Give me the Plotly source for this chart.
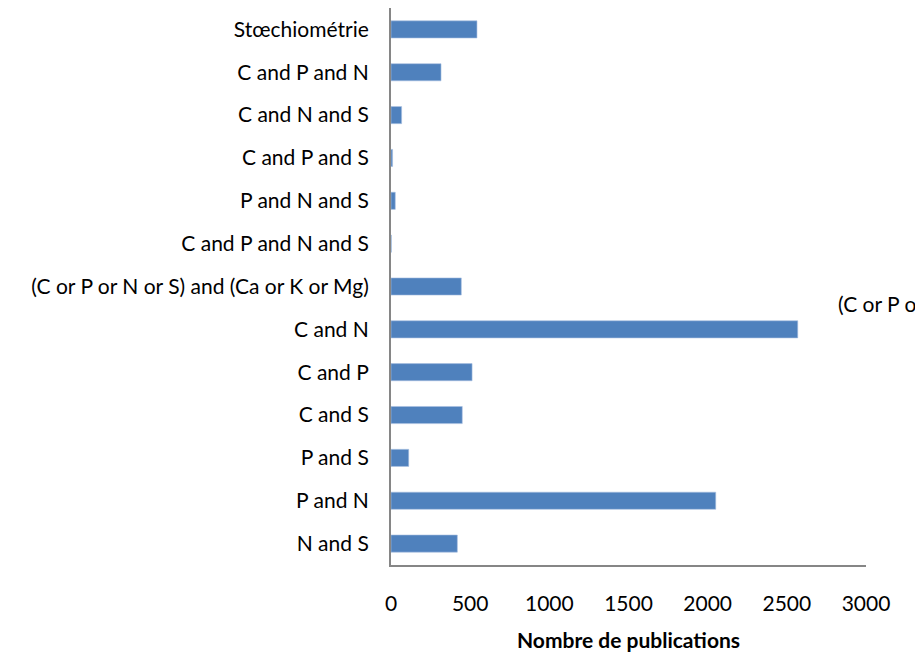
import plotly.graph_objects as go

categories = [
    "N and S", "P and N", "P and S", "C and S", "C and P", "C and N",
    "(C or P or N or S) and (Ca or K or Mg)",
    "C and P and N and S", "P and N and S", "C and P and S",
    "C and N and S", "C and P and N", "Stœchiométrie",
]
values = [419, 2051, 112, 450, 512, 2569, 444, 2, 27, 10, 67, 316, 543]
x_ticks = [0, 500, 1000, 1500, 2000, 2500, 3000]
legend_label = "(C or P or N or S) and (Ca or K or Mg)"

FONT = "Lato"

fig = go.Figure(go.Bar(
    x=values, y=categories, orientation="h",
    marker=dict(color="#4F81BD", line=dict(color="#A7C0E0", width=0.6)),
))

fig.update_layout(
    width=915, height=647,
    margin=dict(l=383, r=57, t=0, b=90, autoexpand=False),
    paper_bgcolor="white", plot_bgcolor="white",
    bargap=0.6,
    showlegend=False,
    font=dict(family=FONT, size=21, color="black"),
    xaxis=dict(
        range=[0, 3000], tickvals=x_ticks, ticktext=[str(t) for t in x_ticks],
        showgrid=False, zeroline=False,
        showline=True, linecolor="#868686", linewidth=2,
        ticks="", tickfont=dict(size=21), ticklabelstandoff=19,
        automargin=False,
        title=dict(text="<b>Nombre de publications</b>", font=dict(size=21), standoff=19),
    ),
    yaxis=dict(
        categoryorder="array", categoryarray=categories,
        showgrid=False, zeroline=False,
        showline=True, linecolor="#868686", linewidth=2,
        ticks="", tickfont=dict(size=21), ticklabelstandoff=16,
        automargin=False,
    ),
    annotations=[dict(
        text=legend_label, xref="paper", yref="paper",
        x=(836 - 391) / 475, y=(565 - 303) / 557,
        xanchor="left", yanchor="middle", showarrow=False,
        font=dict(size=21),
    )],
)

fig.write_html("out.html")
